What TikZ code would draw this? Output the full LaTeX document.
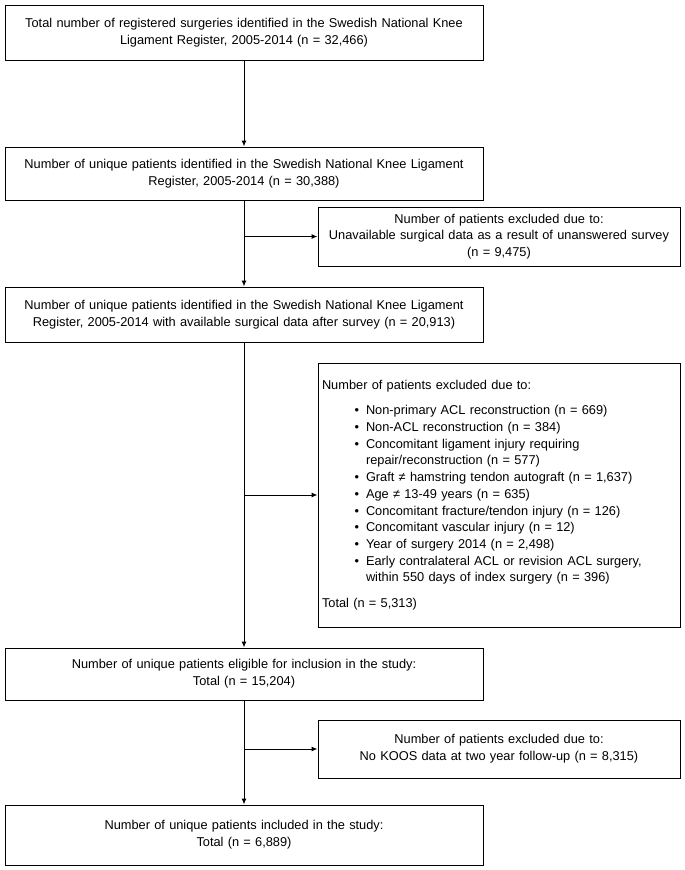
\documentclass[tikz,border=0pt]{standalone}
\usepackage{fontspec}
\setmainfont{Liberation Sans}
\usetikzlibrary{arrows.meta,positioning}

\newenvironment{reasons}{\begin{list}{\textbullet}{\setlength{\leftmargin}{44pt}%
  \setlength{\labelsep}{7pt}\setlength{\itemsep}{0pt}\setlength{\parsep}{0pt}%
  \setlength{\topsep}{9pt}\setlength{\partopsep}{0pt}}}{\end{list}}

\begin{document}
\begin{tikzpicture}
    [x=1pt,y=-1pt,
    stage/.style={rectangle,draw=black,line width=1pt,fill=white,
    inner sep=4pt,text width=470pt,align=center,
    font=\fontsize{12.8}{16.7}\selectfont},
    excluded/.style={stage,text width=354pt},
    flow/.style={-{Latex[length=6pt,width=5pt]},line width=1pt}]
    \useasboundingbox (0,0) rectangle (685,870);
    \node[stage,minimum height=55pt] (registered) at (244,32.5)
      {Total number of registered surgeries identified in the Swedish National Knee\\
       Ligament Register, 2005-2014 (n = 32,466)};
    \node[stage,minimum height=53pt] (unique) at (244,173.5)
      {Number of unique patients identified in the Swedish National Knee Ligament\\
       Register, 2005-2014 (n = 30,388)};
    \node[excluded,minimum height=59pt] (no survey) at (499,236.5)
      {Number of patients excluded due to:\\
       Unavailable surgical data as a result of unanswered survey\\
       (n = 9,475)};
    \node[stage,minimum height=55pt] (surgical) at (244,314.5)
      {Number of unique patients identified in the Swedish National Knee Ligament\\
       Register, 2005-2014 with available surgical data after survey (n = 20,913)};
    \node[excluded,minimum height=264pt,align=left] (criteria) at (499,495)
      {Number of patients excluded due to:
       \begin{reasons}
       \item Non-primary ACL reconstruction (n = 669)
       \item Non-ACL reconstruction (n = 384)
       \item Concomitant ligament injury requiring\\ repair/reconstruction (n = 577)
       \item Graft ≠ hamstring tendon autograft (n = 1,637)
       \item Age ≠ 13-49 years (n = 635)
       \item Concomitant fracture/tendon injury (n = 126)
       \item Concomitant vascular injury (n = 12)
       \item Year of surgery 2014 (n = 2,498)
       \item Early contralateral ACL or revision ACL surgery,\\ within 550 days of index surgery (n = 396)
       \end{reasons}
       Total (n = 5,313)};
    \node[stage,minimum height=52pt] (eligible) at (244,674)
      {Number of unique patients eligible for inclusion in the study:\\
       Total (n = 15,204)};
    \node[excluded,minimum height=58pt] (no koos) at (499,749)
      {Number of patients excluded due to:\\
       No KOOS data at two year follow-up (n = 8,315)};
    \node[stage,minimum height=60pt] (included) at (244,835)
      {Number of unique patients included in the study:\\
       Total (n = 6,889)};
    % main flow
    \draw[flow] (registered) -- (unique);
    \draw[flow] (unique) -- (surgical);
    \draw[flow] (surgical) -- (eligible);
    \draw[flow] (eligible) -- (included);
    % exclusions
    \coordinate (split 1) at (unique.south |- no survey.west);
    \coordinate (split 2) at (surgical.south |- criteria.west);
    \coordinate (split 3) at (eligible.south |- no koos.west);
    \draw[flow] (split 1) -- (no survey);
    \draw[flow] (split 2) -- (criteria);
    \draw[flow] (split 3) -- (no koos);
\end{tikzpicture}
\end{document}
